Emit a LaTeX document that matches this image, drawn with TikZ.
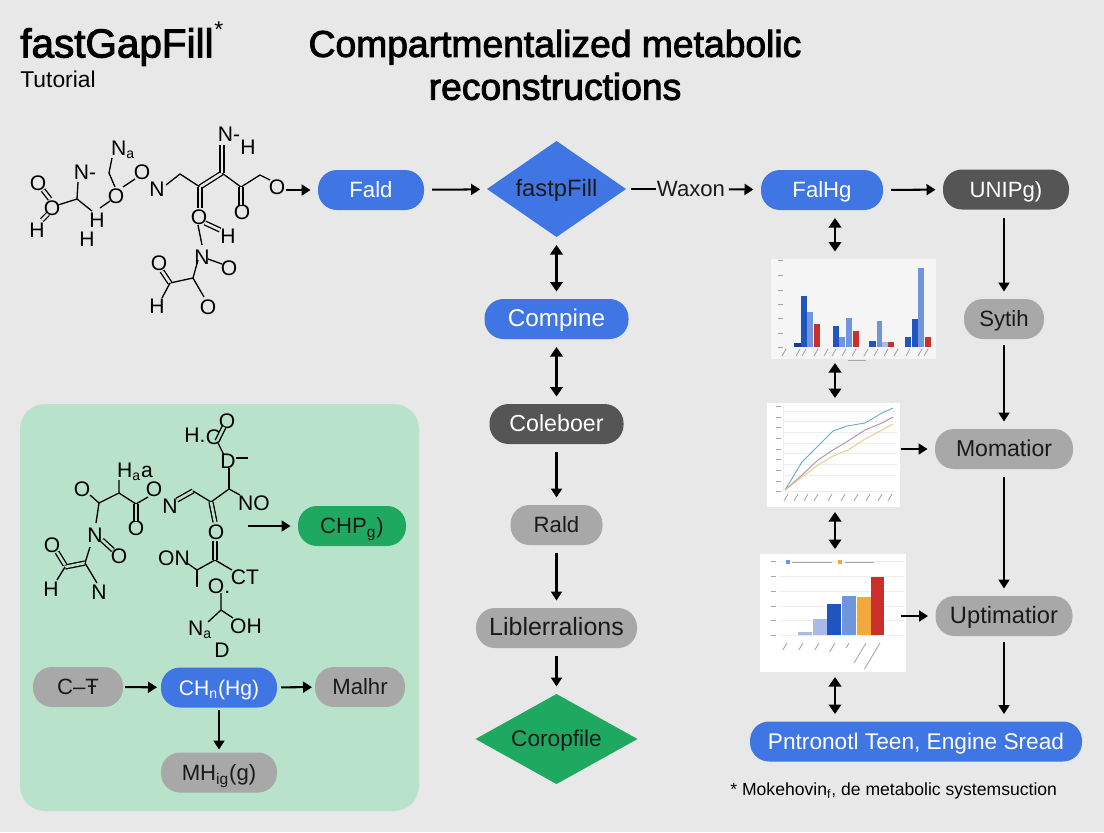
\documentclass[tikz,border=0pt]{standalone}
\usepackage{xcolor}
\usepackage{fontspec}
\setmainfont{Liberation Sans}
\newfontfamily\titlefont[FakeBold=2.5]{Liberation Sans}
\usetikzlibrary{positioning,shapes.geometric,arrows.meta,calc}
\definecolor{pagegray}{HTML}{E8E8E8}
\definecolor{panelgreen}{HTML}{B9E2CA}
\definecolor{boxblue}{HTML}{3F76E4}
\definecolor{boxgreen}{HTML}{1FA85F}
\definecolor{boxdark}{HTML}{555555}
\definecolor{boxgray}{HTML}{A8A8A8}
\definecolor{textdark}{HTML}{1A1A1A}
\definecolor{barmid}{HTML}{1F55BE}
\definecolor{bardark}{HTML}{123F9F}
\definecolor{barlight}{HTML}{6F96DC}
\definecolor{barpale}{HTML}{A9B9E8}
\definecolor{barred}{HTML}{CC2E2A}
\definecolor{barorange}{HTML}{F2A83C}
\definecolor{lineteal}{HTML}{62AACB}
\definecolor{linemauve}{HTML}{AE8FA2}
\definecolor{lineyellow}{HTML}{E6C97F}

\begin{document}
\begin{tikzpicture}[
  x=0.2mm, y=-0.2mm,
  font=\fontsize{12.6}{15}\selectfont,
  pill/.style={rounded corners=3.8mm, minimum height=8mm, inner sep=0pt, outer sep=0pt, text height=10.8pt, text depth=1.8pt, text=textdark},
  bluebox/.style={pill, fill=boxblue, text=white},
  greenbox/.style={pill, fill=boxgreen},
  darkbox/.style={pill, fill=boxdark, text=white},
  graybox/.style={pill, fill=boxgray},
  decide/.style={diamond, shape aspect=1.8, inner sep=0pt, outer sep=0pt, text height=10.8pt, text depth=1.8pt, text=textdark},
  chartbox/.style={fill=white, inner sep=0pt, outer sep=0pt},
  atom/.style={inner sep=0pt, text=black, font=\fontsize{12}{14}\selectfont},
  bond/.style={line width=0.75pt, black},
  dbond/.style={bond, double=#1, double distance=1.5pt},
  arr/.style={-{Triangle[length=1.8mm,width=2.2mm]}, line width=1.15pt, black, shorten <=1.6mm, shorten >=1.5mm},
  dblarr/.style={arr, {Triangle[length=1.9mm,width=2.5mm]}-{Triangle[length=1.9mm,width=2.5mm]}},
  grid/.style={line width=0.25pt, black!7},
  tick/.style={line width=0.5pt, black!35},
]
\useasboundingbox (0,0) rectangle (1104,832);
\fill[pagegray] (0,0) rectangle (1104,832);
\fill[panelgreen, rounded corners=5mm] (20,404) rectangle (419,811);

\node[anchor=west, inner sep=0pt, font=\titlefont\fontsize{23}{27}\selectfont] (brand) at (20,47) {fastGapFill};
\node[anchor=west, inner sep=0pt, font=\fontsize{13}{15}\selectfont] (star) at (214,30) {*};
\node[anchor=west, inner sep=0pt, font=\fontsize{13}{15}\selectfont] (tut) at (20,79) {Tutorial};
\node[align=center, inner sep=0pt, font=\titlefont\fontsize{21.2}{24.4}\selectfont] (title) at (555,65) {Compartmentalized metabolic\\reconstructions};

\node[bluebox, minimum width=21.2mm] (fald) at (371,190) {Fald};
\node[decide, fill=boxblue, minimum width=27.8mm, minimum height=19.2mm, font=\fontsize{13.5}{16}\selectfont] (fast) at (556.5,189) {fastpFill};
\node[inner sep=0pt, text=textdark] (waxon) at (691,189) {Waxon};
\node[bluebox, minimum width=24.4mm] (falhg) at (822,190) {FalHg};
\node[darkbox, minimum width=25.2mm] (unip) at (1006,189.5) {UNIPg)};

\node[bluebox, minimum width=28.8mm, below=12.4mm of fast, font=\fontsize{13.8}{16}\selectfont] (comp) {Compine};
\node[darkbox, minimum width=26.8mm, below=13mm of comp, font=\fontsize{13.2}{16}\selectfont] (cole) {Coleboer};
\node[graybox, minimum width=18.4mm, below=12.2mm of cole] (rald) {Rald};
\node[graybox, minimum width=32.2mm, below=12.6mm of rald, font=\fontsize{14.2}{17}\selectfont] (libl) {Liblerralions};
\node[decide, fill=boxgreen, minimum width=32.4mm, minimum height=18mm, below=9.2mm of libl, font=\fontsize{12.9}{15}\selectfont] (coro) {Coropfile};

\node[graybox, minimum width=16mm] (syti) at (1004,319) {Sytih};
\node[graybox, minimum width=27.6mm, below=18mm of syti, font=\fontsize{13.1}{16}\selectfont] (moma) {Momatior};
\node[graybox, minimum width=27.4mm, below=25.4mm of moma, font=\fontsize{13.5}{16}\selectfont] (upti) {Uptimatior};
\node[bluebox, minimum width=66.4mm, font=\fontsize{12.9}{15}\selectfont] (engine) at (916,741.5) {Pntronotl Teen, Engine Sread};
\node[anchor=west, inner sep=0pt, text=black, font=\fontsize{10}{12}\selectfont] (foot) at (730,791) {* Mokehovin\textsubscript{f}, de metabolic systemsuction};

\node[chartbox, fill=black!4, minimum width=33mm, minimum height=20mm] (chartb) at (853.5,309) {};
\node[chartbox, minimum width=26.6mm, minimum height=20.8mm] (chartl) at (833.5,455) {};
\node[chartbox, minimum width=29.2mm, minimum height=23.6mm] (chartc) at (833,613) {};

\foreach \xa/\xb/\ytop/\col in {794.3/800.7/342.7/bardark,801.3/807.3/296/barmid,807.3/813.3/311.7/barlight,814/820.3/324.3/barred,
  832.7/838.7/326/barmid,839.3/845.3/337.3/barlight,846/852/318.3/barlight,852.7/858.7/331/barred,
  869.3/876/340.7/barmid,876.7/882.3/320.7/barlight,882.3/887.7/342.3/barpale,887.7/894.3/342.3/barred,
  905/911/337.3/barmid,911.7/917.7/319.3/barmid,917.7/924/268.3/barlight,924.7/930.7/336.7/barred}
  \fill[\col] (\xa,346.7) rectangle (\xb,\ytop);
\foreach \yy in {260,275,290,304,318,333,347} \draw[tick] (778,\yy) -- (783,\yy);
\foreach \xx in {786,800,806,818,828,836,846,856,868,878,888,898,910,922,928} \draw[tick] (\xx,349) -- ++(-4,7);
\draw[tick] (848,360) -- (866,360);

\foreach \yy in {411,421,432,443,453,464,475} \draw[grid] (784,\yy) -- (897,\yy);
\draw[grid] (783,406) -- (783,491) -- (897,491);
\foreach \yy in {406,417,427,438,449,459,470,481,491} \draw[tick] (776,\yy) -- (781,\yy);
\foreach \xx in {788,798,808,818,832,845,858,870,882,892} \draw[tick] (\xx,494) -- ++(-4,7);
\draw[line width=0.5pt, lineteal] (785,490) -- (802,462) -- (833,431) -- (847,426) -- (865,423) -- (882,413) -- (893,408);
\draw[line width=0.5pt, linemauve] (785,490) -- (802,475) -- (818,460) -- (833,450) -- (848,441) -- (865,430) -- (882,423) -- (893,417);
\draw[line width=0.5pt, lineyellow] (785,490) -- (802,477) -- (818,465) -- (833,456) -- (848,450) -- (865,439) -- (882,430) -- (893,424);

\foreach \yy in {561,576,591,606,620} \draw[grid] (780,\yy) -- (904,\yy);
\draw[grid] (780,635) -- (904,635);
\foreach \xa/\xb/\ytop/\col in {798/812/632/barpale,813/827/619/barpale,827/841/604/barmid,842/856/596/barlight,857/871/597/barorange,871/884/577/barred}
  \fill[\col] (\xa,635) rectangle (\xb,\ytop);
\fill[barlight] (785.5,560) rectangle (789.5,564);
\fill[barorange] (838,560) rectangle (842,564);
\draw[tick] (792,562) -- (832,562);
\draw[tick] (845,562) -- (874,562);
\foreach \yy in {561,576,591,606,620,635} \draw[tick] (771,\yy) -- (776,\yy);
\foreach \xx/\ll in {787/7,803/7,819/7,835/9,849/5,866/20,880/26} \draw[tick] (\xx,643) -- ++(-0.6*\ll,\ll);

\foreach \nm/\xx/\yy/\tx in {ma/38/183/O,mb/52/208/O,mc/37/230/H,md/85/172/N-,me/123/150/N\textsubscript{a},mf/142/172/O,mg/116/196/O,mh/97/220/H,mi/87/239/H,mj/157/189/N,mk/229/134/N-,ml/248/147/H,mm/277/187/O,mn/242/212/O,mo/199/217/O,mp/228/236/H,mq/202/257/N,mr/229/268/O,ms/159/263/O,mt/157/306/H,mu/208/307/O}
  \node[atom] (\nm) at (\xx,\yy) {\tx};
\draw[dbond=pagegray] (43,190) -- (50,199);
\draw[dbond=pagegray] (42,220) -- (48,214);
\draw[bond] (58,205) -- (77,199) -- (78,182);
\draw[bond] (77,199) -- (92,211);
\draw[bond] (100,208) -- (110,201);
\draw[bond] (115,187) -- (109,173) -- (112,158);
\draw[bond] (123,187) -- (135,179);
\draw[bond] (166,185) -- (180,174) -- (200,187);
\draw[dbond=pagegray] (200,187) -- (222,173);
\draw[bond] (222,173) -- (241,187) -- (260,175) -- (270,180);
\draw[dbond=pagegray] (222,173) -- (222,145);
\draw[dbond=pagegray] (200,187) -- (200,208);
\draw[dbond=pagegray] (241,187) -- (241,205);
\draw[dbond=pagegray] (205,223) -- (220,230);
\draw[bond] (198,225) -- (202,245);
\draw[bond] (208,259) -- (222,264);
\draw[bond] (198,260) -- (193,278) -- (170,283);
\draw[dbond=pagegray] (170,283) -- (162,271);
\draw[bond] (170,283) -- (162,298);
\draw[bond] (193,278) -- (204,297);

\foreach \nm/\xx/\yy/\tx in {na/227/421/O,nb/195/435/H.,nc/214/437/O,nd/228/461/D,ne/170/506/N,nf/254/503/NO,ng/216/532/O,nh/82/489/O,ni/135/472/H\textsubscript{a}a,nj/154/489/O,nk/136/528/O,nl/95/535/N,nm/119/556/O,nn/52/545/O,no/51/589/H,np/99/592/N,nq/174/558/ON,nr/245/577/CT,ns/219/586/O.,nt/246/626/OH,nu/200/630/N\textsubscript{a},nv/222/650/D}
  \node[atom] (\nm) at (\xx,\yy) {\tx};
\draw[dbond=panelgreen] (217,441) -- (224,427);
\draw[bond] (218,443) -- (224,455);
\draw[bond] (236,458) -- (248,458);
\draw[bond] (229,468) -- (229,489);
\draw[dbond=panelgreen] (177,500) -- (193,491);
\draw[bond] (193,491) -- (211,502) -- (229,489) -- (240,495);
\draw[dbond=panelgreen] (211,502) -- (215,522);
\draw[bond] (90,495) -- (99,503) -- (119,493) -- (119,480);
\draw[bond] (119,493) -- (136,504) -- (148,497);
\draw[dbond=panelgreen] (136,504) -- (136,521);
\draw[bond] (99,503) -- (96,523);
\draw[dbond=panelgreen] (102,540) -- (113,550);
\draw[bond] (90,547) -- (85,563);
\draw[dbond=panelgreen] (85,563) -- (65,567);
\draw[dbond=panelgreen] (65,565) -- (57,552);
\draw[bond] (65,567) -- (57,580);
\draw[bond] (85,563) -- (97,583);
\draw[bond] (187,563) -- (197,570) -- (215,560) -- (232,570);
\draw[bond] (197,570) -- (197,587);
\draw[dbond=panelgreen] (215,560) -- (215,541);
\draw[bond] (221,593) -- (221,610) -- (233,618);
\draw[bond] (221,610) -- (208,622);

\node[greenbox, minimum width=21.6mm] (chp) at (352,526) {CHP\textsubscript{g})};
\node[graybox, minimum width=18mm] (cte) at (78,687) {C–Ŧ};
\node[bluebox, minimum width=23.2mm, font=\fontsize{12}{15}\selectfont] (chhg) at (219,687.5) {CH\textsubscript{n}(Hg)};
\node[graybox, minimum width=18mm] (malh) at (360,687) {Malhr};
\node[graybox, minimum width=23.2mm] (mhg) at (219,772.5) {MH\textsubscript{ig}(g)};
\coordinate (molb) at (248,526);
\coordinate (dblx) at (835,0);

\draw[arr, shorten <=0pt] (mm.east |- fald.west) -- (fald.west);
\draw[arr] (fald) -- (fast);
\draw[arr, -, shorten >=0.2mm, shorten <=1mm] (fast) -- (waxon);
\draw[arr, shorten <=0.7mm] (waxon) -- (falhg);
\draw[arr] (falhg) -- (unip);
\draw[dblarr] (fast) -- (comp);
\draw[dblarr] (comp) -- (cole);
\draw[arr] (cole) -- (rald);
\draw[arr] (rald) -- (libl);
\draw[arr] (libl) -- (coro);
\draw[arr] (unip.south -| syti) -- (syti);
\draw[arr, shorten <=1.2mm] (syti) -- (moma);
\draw[arr] (moma) -- (upti);
\draw[arr, shorten <=1.2mm] (upti) -- (engine.north -| upti);
\draw[dblarr] (falhg.south -| dblx) -- (chartb.north -| dblx);
\draw[dblarr, shorten <=0.8mm, shorten >=1mm] (chartb.south -| dblx) -- (chartl.north -| dblx);
\draw[dblarr, shorten <=1mm, shorten >=1mm] (chartl.south -| dblx) -- (chartc.north -| dblx);
\draw[dblarr, shorten <=1mm] (chartc.south -| dblx) -- (engine.north -| dblx);
\draw[arr, shorten <=0.2mm] (chartl.east |- moma) -- (moma);
\draw[arr, shorten <=-1mm] (chartc.east |- upti) -- (upti);
\draw[arr, shorten <=0pt] (molb) -- (chp);
\draw[arr, shorten <=0.4mm, shorten >=0.8mm] (cte) -- (chhg);
\draw[arr, shorten <=0.8mm, shorten >=0.6mm] (chhg) -- (malh);
\draw[arr, shorten <=0.4mm, shorten >=0.6mm] (chhg) -- (mhg);
\end{tikzpicture}
\end{document}
